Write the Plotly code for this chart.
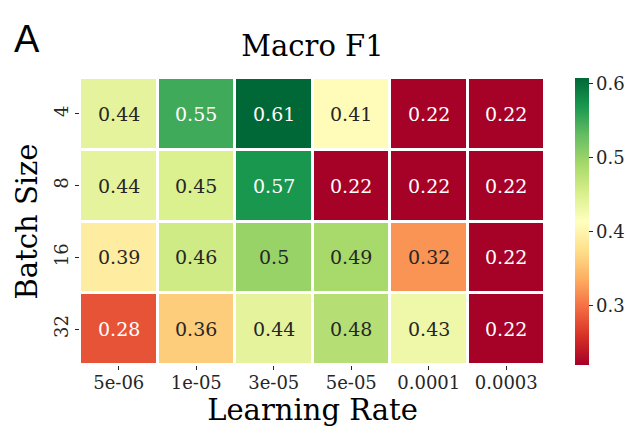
import plotly.graph_objects as go
from plotly.colors import sample_colorscale, unlabel_rgb

learning_rates = ["5e-06", "1e-05", "3e-05", "5e-05", "0.0001", "0.0003"]
batch_sizes = ["4", "8", "16", "32"]

# Macro F1 per batch size (rows) and learning rate (columns)
f1_bs4 = [0.44, 0.55, 0.61, 0.41, 0.22, 0.22]
f1_bs8 = [0.44, 0.45, 0.57, 0.22, 0.22, 0.22]
f1_bs16 = [0.39, 0.46, 0.50, 0.49, 0.32, 0.22]
f1_bs32 = [0.28, 0.36, 0.44, 0.48, 0.43, 0.22]
f1_rows = [f1_bs4, f1_bs8, f1_bs16, f1_bs32]

ZMIN, ZMAX = 0.219, 0.608
SERIF = "DejaVu Serif"
DARK = "rgb(38,38,38)"


def text_color(value):
    """Seaborn-style: dark text on light cells, white on dark cells."""
    t = (value - ZMIN) / (ZMAX - ZMIN)
    t = min(max(t, 0), 1)
    rgb = unlabel_rgb(sample_colorscale("RdYlGn", [t])[0])
    lin = []
    for c in rgb:
        c = c / 255
        lin.append(c / 12.92 if c <= 0.03928 else ((c + 0.055) / 1.055) ** 2.4)
    lum = 0.2126 * lin[0] + 0.7152 * lin[1] + 0.0722 * lin[2]
    return DARK if lum > 0.408 else "white"


fig = go.Figure()
fig.add_trace(
    go.Heatmap(
        z=f1_rows,
        x=learning_rates,
        y=batch_sizes,
        colorscale="RdYlGn",
        zmin=ZMIN,
        zmax=ZMAX,
        xgap=3,
        ygap=3,
        hoverinfo="skip",
        colorbar=dict(
            x=1.064,
            xanchor="left",
            xpad=0,
            y=0.5,
            yanchor="middle",
            ypad=0,
            len=1.0,
            thickness=14,
            outlinewidth=0,
            tickvals=[0.3, 0.4, 0.5, 0.6],
            ticks="outside",
            ticklen=4,
            tickwidth=1,
            tickcolor=DARK,
            tickfont=dict(family=SERIF, size=18, color=DARK),
        ),
    )
)

# cell labels, positioned by category index
annotations = []
for i, row in enumerate(f1_rows):
    for j, v in enumerate(row):
        annotations.append(
            dict(
                x=j, y=i, xref="x", yref="y",
                text=f"{v:g}",
                showarrow=False,
                font=dict(family=SERIF, size=19, color=text_color(v)),
            )
        )

# panel label, top-left corner of the page
annotations.append(
    dict(
        x=(12 - 80) / 465, y=1 + (78 - 16) / 287, xref="paper", yref="paper", text="A",
        showarrow=False, xanchor="left", yanchor="top",
        font=dict(family="Liberation Sans", size=38, color="black"),
    )
)

fig.update_layout(
    width=629,
    height=432,
    margin=dict(l=80, r=84, t=78, b=67, autoexpand=False),
    paper_bgcolor="white",
    plot_bgcolor="white",
    title=dict(
        text="Macro F1",
        x=(80 + 465 / 2) / 629,
        xanchor="center",
        y=1 - 46 / 432,
        yanchor="middle",
        font=dict(family=SERIF, size=29, color="black"),
    ),
    xaxis=dict(
        type="category",
        automargin=False,
        title=dict(text="Learning Rate", font=dict(family=SERIF, size=29, color="black"), standoff=0),
        ticks="outside",
        ticklen=4,
        tickwidth=1,
        tickcolor=DARK,
        tickfont=dict(family=SERIF, size=18, color=DARK),
        ticklabelstandoff=-3,
        showgrid=False,
        zeroline=False,
        showline=False,
    ),
    yaxis=dict(
        type="category",
        automargin=False,
        title=dict(text="Batch Size", font=dict(family=SERIF, size=29, color="black"), standoff=4),
        autorange="reversed",
        ticks="outside",
        ticklen=4,
        tickwidth=1,
        tickcolor=DARK,
        tickangle=-90,
        tickfont=dict(family=SERIF, size=18, color=DARK),
        showgrid=False,
        zeroline=False,
        showline=False,
    ),
    annotations=annotations,
)

fig.write_html(
    "out.html",
    config={"displayModeBar": False},
    post_script="document.body.style.margin='0';",
)
